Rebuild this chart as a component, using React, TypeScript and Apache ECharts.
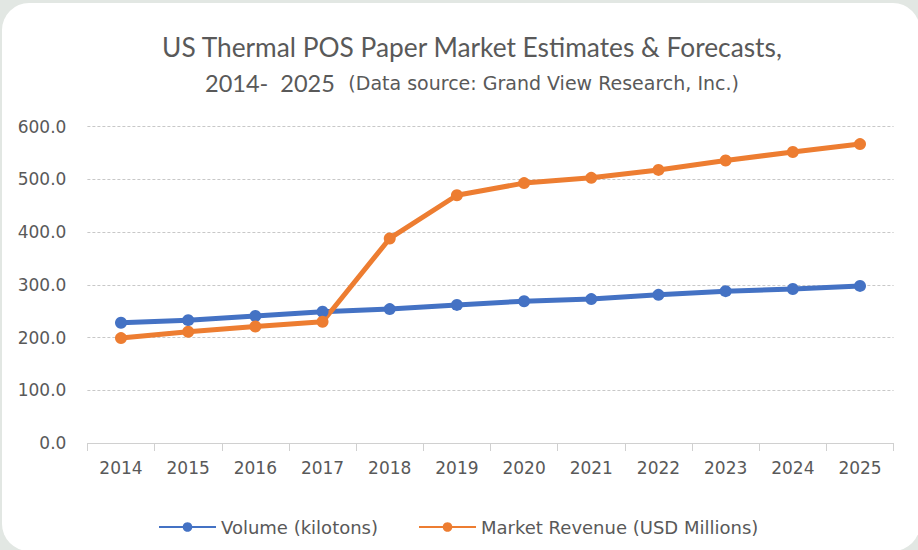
import React, { useEffect, useRef } from "react";
import * as echarts from "echarts";

const years = ["2014", "2015", "2016", "2017", "2018", "2019", "2020", "2021", "2022", "2023", "2024", "2025"];
const volume = [228, 233, 241, 249, 254, 262, 269, 273, 281, 288, 292, 298];
const revenue = [199, 211, 221, 230, 388, 470, 493, 503, 518, 536, 552, 567];
const seriesNames = ["Volume (kilotons)", "Market Revenue (USD Millions)"];
const titleLine1 = "US Thermal POS Paper Market Estimates & Forecasts,";
const titleYears = "2014-  2025";
const titleSource = "(Data source: Grand View Research, Inc.)";

export default function App() {
  const ref = useRef<HTMLDivElement>(null);
  useEffect(() => {
    const chart = echarts.init(ref.current!, null, { renderer: "svg" });
    const tfont = "Lato";
    const font = "DejaVu Sans";
    chart.setOption({
      animation: false,
      title: {
        text: titleLine1 + "\n{y|" + titleYears + "}  {s|" + titleSource + "}",
        left: 467,
        top: 24,
        textAlign: "center",
        textStyle: {
          fontFamily: tfont,
          fontSize: 26.3,
          fontWeight: "normal",
          color: "#595959",
          lineHeight: 36,
          rich: {
            y: { fontFamily: tfont, fontSize: 23.5, color: "#595959", lineHeight: 36 },
            s: { fontFamily: font, fontSize: 19, color: "#595959", lineHeight: 36 },
          },
        },
      },
      legend: {
        left: 153,
        top: 511,
        itemWidth: 57,
        itemHeight: 12,
        itemGap: 40,
        textStyle: { fontFamily: font, fontSize: 18, color: "#595959", lineHeight: 22 },
        data: seriesNames,
      },
      grid: { left: 87.4, right: 24.4, top: 126.7, bottom: 107, containLabel: false },
      xAxis: {
        type: "category",
        data: years,
        boundaryGap: true,
        axisLine: { lineStyle: { color: "#d0d0d0", width: 1 } },
        axisTick: { show: true, length: 8, lineStyle: { color: "#d0d0d0" } },
        axisLabel: { fontFamily: font, fontSize: 17, color: "#595959", margin: 16 },
      },
      yAxis: {
        type: "value",
        min: 0,
        max: 600,
        interval: 100,
        axisLine: { show: false },
        axisTick: { show: false },
        axisLabel: {
          fontFamily: font,
          fontSize: 17,
          color: "#595959",
          margin: 21,
          formatter: (v: number) => v.toFixed(1),
        },
        splitLine: { lineStyle: { color: "#c8c8c8", type: [3, 2], width: 1 } },
      },
      series: [
        {
          name: seriesNames[0],
          type: "line",
          data: volume,
          symbol: "circle",
          symbolSize: 12,
          color: "#4472C4",
          lineStyle: { width: 5, color: "#4472C4" },
          itemStyle: { color: "#4472C4" },
        },
        {
          name: seriesNames[1],
          type: "line",
          data: revenue,
          symbol: "circle",
          symbolSize: 12,
          color: "#ED7D31",
          lineStyle: { width: 5, color: "#ED7D31" },
          itemStyle: { color: "#ED7D31" },
        },
      ],
    });
    return () => chart.dispose();
  }, []);
  return (
    <div style={{ position: "fixed", left: 0, top: 0, width: 918, height: 550, background: "#e2e7e3", overflow: "hidden" }}>
      <div style={{ position: "absolute", left: 2, top: 3, width: 918, height: 548, background: "#ffffff", borderRadius: 27, overflow: "hidden" }}>
        <div ref={ref} style={{ position: "absolute", left: -2, top: -3, width: 918, height: 550 }} />
      </div>
    </div>
  );
}
